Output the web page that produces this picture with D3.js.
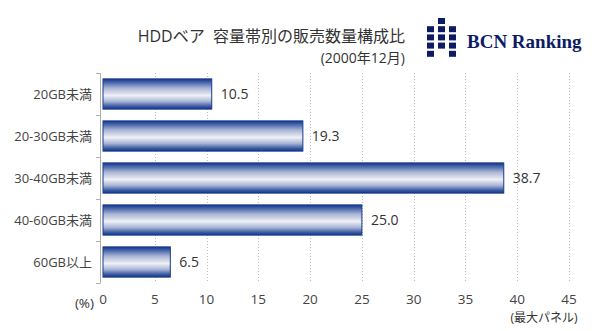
<!DOCTYPE html>
<html><head><meta charset="utf-8">
<script src="https://cdn.jsdelivr.net/npm/d3@7"></script>
<style>
html,body{margin:0;padding:0;background:#fff;}
svg{display:block;font-family:"Open Sans","Noto Sans CJK JP",sans-serif;}
</style></head>
<body><svg id="c" width="592" height="331"></svg>
<script>
const categories = ["20GB未満","20-30GB未満","30-40GB未満","40-60GB未満","60GB以上"];
const values = [10.5, 19.3, 38.7, 25.0, 6.5];
const xTicks = [0,5,10,15,20,25,30,35,40,45];
const titleText = "HDDベア  容量帯別の販売数量構成比";
const subtitleText = "(2000年12月)";
const unitLabel = "(%)";
const noteLabel = "(最大パネル)";
const logoText = "BCN Ranking";

const svg = d3.select("#c");
const x = d3.scaleLinear().domain([0,45]).range([103,569]);
const y = d3.scaleBand().domain(categories).range([73,283]).paddingInner(0.28).paddingOuter(0.14);

const defs = svg.append("defs");
const g = defs.append("linearGradient").attr("id","bg").attr("x1",0).attr("y1",0).attr("x2",0).attr("y2",1);
[[0,"#14358a"],[0.1,"#3f5ea6"],[0.3,"#a6b3d3"],[0.55,"#eef0f6"],[0.75,"#a6b3d3"],[0.9,"#3f5ea6"],[1,"#14358a"]]
 .forEach(([o,c])=>g.append("stop").attr("offset",o).attr("stop-color",c));

// gridlines
svg.append("g").selectAll("line").data(xTicks.filter(d=>d>0)).join("line")
  .attr("x1",d=>Math.round(x(d))+0.5).attr("x2",d=>Math.round(x(d))+0.5)
  .attr("y1",73).attr("y2",283)
  .attr("stroke","#bdbdbd").attr("stroke-dasharray","1,2");

// y axis bracket
const ay = svg.append("g").attr("stroke","#b0b0b0").attr("fill","none");
ay.append("line").attr("x1",100.5).attr("x2",100.5).attr("y1",73).attr("y2",283);
const bounds = categories.map(c=>y(c)-y.step()*y.paddingInner()/2);
bounds[0]=73; bounds.push(283);
ay.selectAll("path").data(bounds).join("line")
  .attr("x1",96).attr("x2",100.5).attr("y1",d=>Math.round(d)+0.5).attr("y2",d=>Math.round(d)+0.5);

// bars
svg.append("g").selectAll("rect").data(values).join("rect")
  .attr("x",x(0)).attr("y",(d,i)=>y(categories[i]))
  .attr("width",d=>x(d)-x(0)).attr("height",y.bandwidth())
  .attr("fill","url(#bg)").attr("stroke","#163a8c").attr("stroke-width",1);

// value labels
svg.append("g").selectAll("text").data(values).join("text")
  .attr("x",d=>x(d)+9).attr("y",(d,i)=>y(categories[i])+y.bandwidth()/2)
  .attr("dy","0.36em").attr("font-size",14).attr("fill","#333")
  .text(d=>d.toFixed(1));

// category labels
svg.append("g").selectAll("text").data(categories).join("text")
  .attr("x",92).attr("y",d=>y(d)+y.bandwidth()/2).attr("dy","0.36em")
  .attr("text-anchor","end").attr("font-size",13).attr("fill","#444").text(d=>d);

// x tick labels
svg.append("g").selectAll("text").data(xTicks).join("text")
  .attr("x",d=>x(d)).attr("y",304).attr("text-anchor","middle")
  .attr("font-size",13.5).attr("fill","#444").text(d=>d);
svg.append("text").attr("x",94).attr("y",308).attr("text-anchor","end")
  .attr("font-size",13.5).attr("fill","#333").text(unitLabel);
svg.append("text").attr("x",544).attr("y",322).attr("text-anchor","middle")
  .attr("font-size",12).attr("fill","#333").text(noteLabel);

// titles
svg.append("text").attr("x",405).attr("y",42).attr("text-anchor","end")
  .attr("font-size",16).attr("fill","#333").style("white-space","pre").text(titleText);
svg.append("text").attr("x",405).attr("y",63).attr("text-anchor","end")
  .attr("font-size",14).attr("fill","#333").text(subtitleText);

// logo
const logoCells = [[1,0],[0,1],[1,1],[2,1],[0,2],[1,2],[2,2],[0,3],[1,3],[2,3],[0,4],[2,4]];
svg.append("g").selectAll("rect").data(logoCells).join("rect")
  .attr("x",d=>427+d[0]*11).attr("y",d=>18+d[1]*8.2).attr("width",7).attr("height",6)
  .attr("fill","#0c1b63");
svg.append("text").attr("x",467).attr("y",48).attr("font-size",19).attr("font-weight","bold")
  .attr("font-family","'Liberation Serif','DejaVu Serif',serif").attr("fill","#0c1b63").text(logoText);
</script></body></html>
